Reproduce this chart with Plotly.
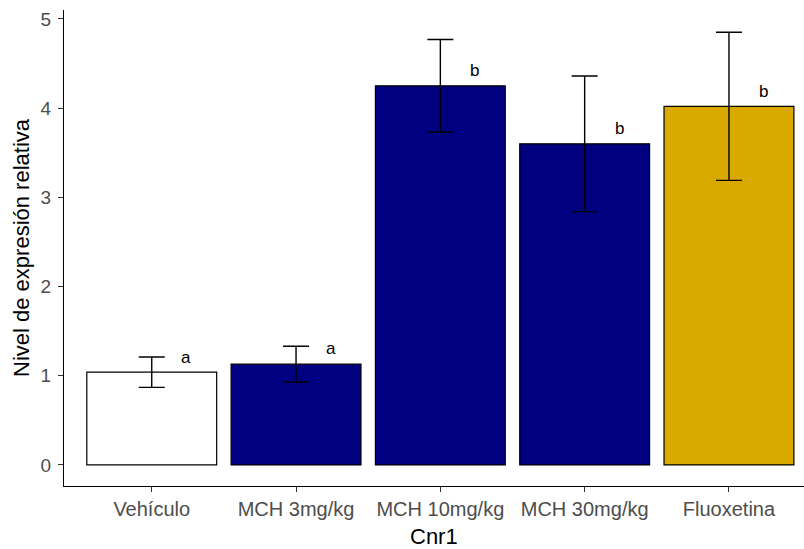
import plotly.graph_objects as go

categories = ["Vehículo", "MCH 3mg/kg", "MCH 10mg/kg", "MCH 30mg/kg", "Fluoxetina"]
means = [1.04, 1.13, 4.25, 3.60, 4.02]
errors = [0.17, 0.20, 0.52, 0.76, 0.83]
letters = ["a", "a", "b", "b", "b"]
bar_colors = ["#FFFFFF", "#000080", "#000080", "#000080", "#DAA900"]

xs = list(range(len(categories)))
FONT = "Liberation Sans, Arial"

fig = go.Figure()
fig.add_trace(go.Bar(
    x=xs, y=means, width=0.9,
    marker=dict(color=bar_colors, line=dict(color="black", width=1.2)),
    error_y=dict(type="data", array=errors, visible=True, color="black", thickness=1.4, width=13),
    showlegend=False,
))

for i, (m, lab) in enumerate(zip(means, letters)):
    fig.add_annotation(x=i + 0.24, y=m + 0.17, text=lab, showarrow=False,
                       font=dict(family=FONT, size=17, color="black"),
                       xanchor="center", yanchor="middle")

# axis titles
fig.add_annotation(xref="paper", yref="paper", x=0.5, y=0, yshift=-50,
                   text="Cnr1", showarrow=False, xanchor="center", yanchor="middle",
                   font=dict(family=FONT, size=22, color="black"))
fig.add_annotation(xref="paper", yref="paper", x=0, y=0.5, xshift=-43, textangle=-90,
                   text="Nivel de expresión relativa", showarrow=False,
                   xanchor="center", yanchor="middle",
                   font=dict(family=FONT, size=22, color="black"))

fig.update_layout(
    width=804, height=549,
    margin=dict(l=64, r=0, t=10, b=63),
    plot_bgcolor="white", paper_bgcolor="white",
    font=dict(family=FONT, color="black"),
    xaxis=dict(
        range=[-0.608, 4.52], tickvals=xs, ticktext=categories, automargin=False,
        showline=True, linecolor="black", linewidth=1.2, showgrid=False, zeroline=False,
        ticks="outside", ticklen=5, tickcolor="#333333", tickwidth=1.2,
        tickfont=dict(size=20, color="#4D4D4D"),
    ),
    yaxis=dict(
        range=[-0.236, 5.1], tickvals=[0, 1, 2, 3, 4, 5], automargin=False,
        showline=True, linecolor="black", linewidth=1.2, showgrid=False, zeroline=False,
        ticks="outside", ticklen=5, tickcolor="#333333", tickwidth=1.2,
        tickfont=dict(size=19, color="#4D4D4D"), ticklabelstandoff=3,
    ),
)

fig.write_html("out.html", config={"displayModeBar": False},
               post_script="document.body.style.margin='0px';document.body.style.overflow='hidden';")
